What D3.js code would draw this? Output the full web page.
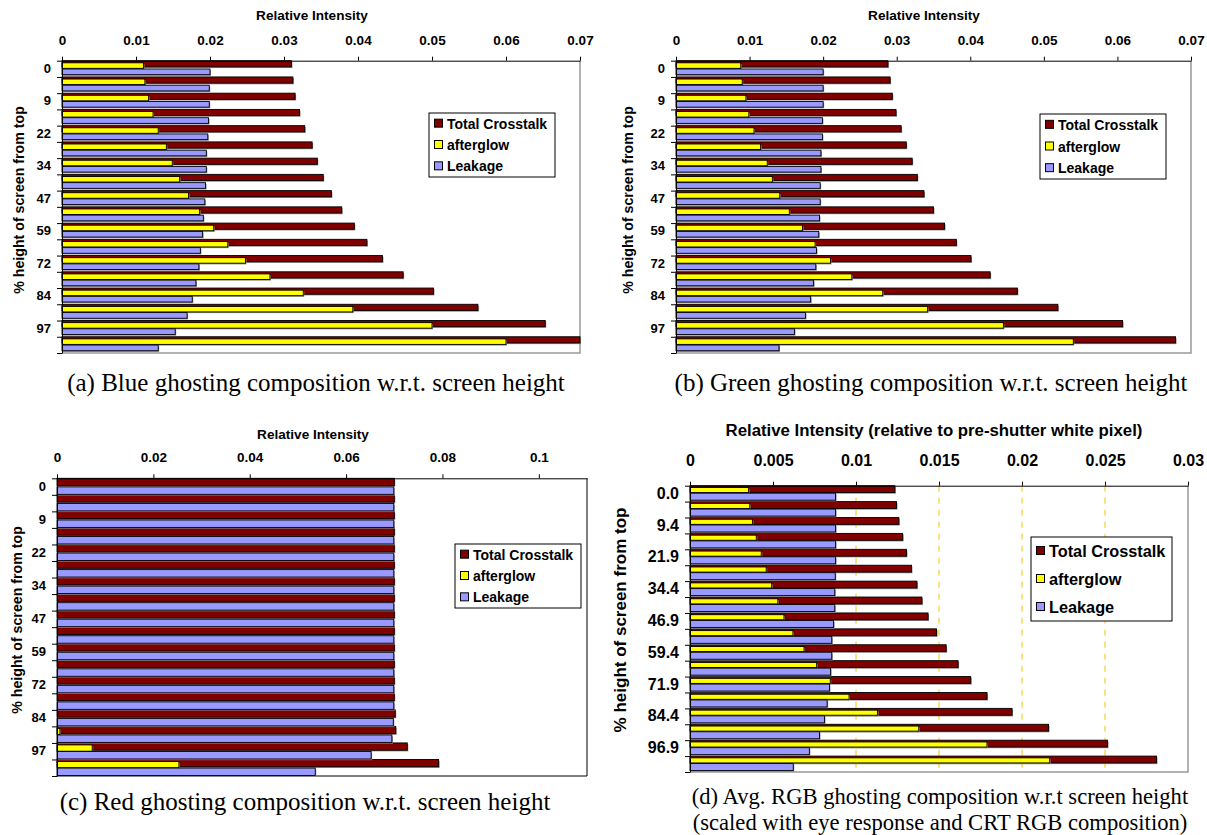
<!DOCTYPE html>
<meta charset="utf-8">
<script src="https://d3js.org/d3.v7.min.js"></script>
<style>
  body {margin: 0; background: #fff;}
  svg {font-family: "Liberation Sans", Arial, sans-serif;}
  .cap {font-family: "Liberation Serif", "Times New Roman", serif; font-weight: normal;}
</style>
<div id="my_dataviz"></div>
<script>

// rows: % height of screen from top (only every other one is labelled)
var rowPct = [0.0, 3.1, 9.4, 15.6, 21.9, 28.1, 34.4, 40.6, 46.9, 53.1, 59.4, 65.6, 71.9, 78.1, 84.4, 90.6, 96.9, 100.0];

var seriesNames = ["Total Crosstalk", "afterglow", "Leakage"];
var seriesColors = ["#800000", "#ffff00", "#9999ff"];

// (a) blue
var blueTotal     = [0.0310, 0.0312, 0.0315, 0.0321, 0.0328, 0.0338, 0.0345, 0.0353, 0.0364, 0.0378, 0.0395, 0.0412, 0.0433, 0.0461, 0.0502, 0.0562, 0.0653, 0.0733];
var blueAfterglow = [0.0110, 0.0112, 0.0117, 0.0123, 0.0130, 0.0141, 0.0149, 0.0159, 0.0171, 0.0186, 0.0205, 0.0224, 0.0248, 0.0281, 0.0326, 0.0393, 0.0500, 0.0600];
var blueLeakage   = [0.0200, 0.0199, 0.0199, 0.0198, 0.0197, 0.0195, 0.0195, 0.0194, 0.0193, 0.0191, 0.0190, 0.0187, 0.0185, 0.0181, 0.0176, 0.0169, 0.0153, 0.0130];

// (b) green
var greenTotal     = [0.0288, 0.0291, 0.0294, 0.0299, 0.0306, 0.0313, 0.0321, 0.0328, 0.0337, 0.0350, 0.0365, 0.0381, 0.0401, 0.0427, 0.0464, 0.0519, 0.0607, 0.0679];
var greenAfterglow = [0.0088, 0.0090, 0.0095, 0.0099, 0.0106, 0.0115, 0.0124, 0.0131, 0.0141, 0.0154, 0.0172, 0.0189, 0.0210, 0.0239, 0.0281, 0.0342, 0.0445, 0.0540];
var greenLeakage   = [0.0200, 0.0200, 0.0200, 0.0199, 0.0199, 0.0197, 0.0197, 0.0196, 0.0196, 0.0195, 0.0194, 0.0191, 0.0190, 0.0187, 0.0183, 0.0176, 0.0161, 0.0140];

// (c) red
var redTotal     = [0.0700, 0.0700, 0.0700, 0.0700, 0.0700, 0.0700, 0.0700, 0.0700, 0.0700, 0.0700, 0.0700, 0.0700, 0.0700, 0.0700, 0.0702, 0.0703, 0.0727, 0.0792];
var redAfterglow = [0, 0, 0, 0, 0, 0, 0, 0, 0, 0, 0, 0, 0, 0, 0, 0.0006, 0.0073, 0.0253];
var redLeakage   = [0.0699, 0.0699, 0.0699, 0.0699, 0.0699, 0.0699, 0.0699, 0.0699, 0.0699, 0.0699, 0.0699, 0.0699, 0.0699, 0.0699, 0.0698, 0.0695, 0.0652, 0.0536];

// (d) average RGB
var avgTotal     = [0.01234, 0.01244, 0.01258, 0.01281, 0.01304, 0.01334, 0.01367, 0.01397, 0.01434, 0.01485, 0.01543, 0.01615, 0.01691, 0.01789, 0.01940, 0.02160, 0.02515, 0.02810];
var avgAfterglow = [0.00353, 0.00360, 0.00376, 0.00399, 0.00429, 0.00459, 0.00492, 0.00529, 0.00566, 0.00620, 0.00687, 0.00763, 0.00845, 0.00958, 0.01130, 0.01378, 0.01789, 0.02167];
var avgLeakage   = [0.00877, 0.00877, 0.00877, 0.00877, 0.00877, 0.00875, 0.00872, 0.00872, 0.00865, 0.00854, 0.00854, 0.00847, 0.00840, 0.00826, 0.00810, 0.00780, 0.00719, 0.00622];

// x tick values
var ticksBG  = [0, 0.01, 0.02, 0.03, 0.04, 0.05, 0.06, 0.07];
var ticksRed = [0, 0.02, 0.04, 0.06, 0.08, 0.1];
var ticksAvg = [0, 0.005, 0.01, 0.015, 0.02, 0.025, 0.03];
var gridAvg  = [0.005, 0.01, 0.015, 0.02, 0.025];

var svg = d3.select("#my_dataviz")
  .append("svg")
    .attr("width", 1207)
    .attr("height", 835);

// layouts of the four panels
var panels = [
  {series: [blueTotal, blueAfterglow, blueLeakage], max: 0.07, ticks: ticksBG, grid: [],
   left: 62, right: 580, top: 60.7, bottom: 353, frame: "#999", fmt: d3.format(".0f"),
   title: "Relative Intensity", titleX: 312, titleY: 19.5, tickPad: 12, fs: 13.5, yfs: 13, tfs: 13.6, ytfs: 14.2,
   yTitleX: 19, yTitleY: 200, legend: {x: 429, y: 113, w: 126, h: 64, fs: 14},
   band: [[0, 0.38], [0.13, 0.47], [0.51, 0.86]],
   caption: ["(a) Blue ghosting composition w.r.t. screen height"], capFs: 25, capX: 316, capY: 391},
  {series: [greenTotal, greenAfterglow, greenLeakage], max: 0.07, ticks: ticksBG, grid: [],
   left: 676, right: 1191, top: 60.7, bottom: 353, frame: "#999", fmt: d3.format(".0f"),
   title: "Relative Intensity", titleX: 924, titleY: 19.5, tickPad: 12, fs: 13.5, yfs: 13, tfs: 13.6, ytfs: 14.2,
   yTitleX: 628, yTitleY: 200, legend: {x: 1040, y: 114, w: 126, h: 65, fs: 14},
   band: [[0, 0.38], [0.13, 0.47], [0.51, 0.86]],
   caption: ["(b) Green ghosting composition w.r.t. screen height"], capFs: 25, capX: 931, capY: 391},
  {series: [redTotal, redAfterglow, redLeakage], max: 0.11, ticks: ticksRed, grid: [],
   left: 57, right: 587, top: 478.3, bottom: 776, frame: "#000", fmt: d3.format(".0f"),
   title: "Relative Intensity", titleX: 313, titleY: 438.5, tickPad: 12, fs: 13.5, yfs: 13, tfs: 13.6, ytfs: 14.2,
   yTitleX: 17, yTitleY: 620, legend: {x: 455, y: 544, w: 126, h: 64, fs: 14},
   band: [[0, 0.44], [0.12, 0.5], [0.52, 0.97]],
   caption: ["(c) Red ghosting composition w.r.t. screen height"], capFs: 25, capX: 305, capY: 810},
  {series: [avgTotal, avgAfterglow, avgLeakage], max: 0.03, ticks: ticksAvg, grid: gridAvg,
   left: 690, right: 1188, top: 485.7, bottom: 772, frame: "#999", fmt: d3.format(".1f"),
   title: "Relative Intensity (relative to pre-shutter white pixel)", titleX: 934, titleY: 436, tickPad: 16, fs: 16, yfs: 16, tfs: 16.8, ytfs: 17,
   yTitleX: 620, yTitleY: 620, legend: {x: 1031, y: 537, w: 141, h: 84, fs: 16.3},
   band: [[0, 0.43], [0.11, 0.43], [0.47, 0.91]],
   caption: ["(d) Avg. RGB ghosting composition w.r.t screen height",
             "(scaled with eye response and CRT RGB composition)"], capFs: 22.6, capX: 940, capY: 804}
];

panels.forEach(function(p) {
  var g = svg.append("g");

  var x = d3.scaleLinear()
    .domain([0, p.max])
    .range([p.left, p.right])
    .clamp(true);

  var y = d3.scaleBand()
    .domain(rowPct)
    .range([p.top, p.bottom])
    .padding(0);
  var rh = y.bandwidth();

  // dashed gridlines
  g.selectAll("grid")
    .data(p.grid)
    .enter()
    .append("line")
      .attr("x1", function(d) { return x(d); })
      .attr("x2", function(d) { return x(d); })
      .attr("y1", p.top)
      .attr("y2", p.bottom)
      .attr("stroke", "#f5c400")
      .attr("stroke-width", 1)
      .attr("stroke-dasharray", "6,6");

  // right / bottom frame of the plot area
  g.append("path")
    .attr("d", "M" + p.right + "," + p.top + "V" + p.bottom + "H" + p.left)
    .attr("fill", "none")
    .attr("stroke", p.frame)
    .attr("stroke-width", p.frame == "#000" ? 1 : 1.5);

  // bars: total first, afterglow over it, leakage below
  p.series.forEach(function(vals, s) {
    var b = p.band[s];
    var rows = rowPct.map(function(r, i) { return {row: r, v: vals[i]}; })
      .filter(function(d) { return d.v > 0; });

    g.selectAll("shadow" + s)
      .data(rows)
      .enter()
      .append("rect")
        .attr("x", x(0) + 1)
        .attr("y", function(d) { return y(d.row) + b[0] * rh + 1.2; })
        .attr("width", function(d) { return Math.max(0, x(d.v) - x(0)); })
        .attr("height", (b[1] - b[0]) * rh)
        .attr("fill", "#8c8c8c");

    g.selectAll("bar" + s)
      .data(rows)
      .enter()
      .append("rect")
        .attr("x", x(0))
        .attr("y", function(d) { return y(d.row) + b[0] * rh; })
        .attr("width", function(d) { return Math.max(0, x(d.v) - x(0)); })
        .attr("height", (b[1] - b[0]) * rh)
        .attr("fill", seriesColors[s])
        .attr("stroke", "#000")
        .attr("stroke-width", 0.9);
  });

  // top axis
  var xa = g.append("g")
    .attr("transform", "translate(0," + p.top + ")")
    .call(d3.axisTop(x).tickValues(p.ticks).tickSize(4).tickSizeOuter(0).tickPadding(p.tickPad)
      .tickFormat(function(d) { return d === 0 ? "0" : String(d); }));
  xa.selectAll("text").attr("font-size", p.fs).attr("font-weight", "bold").attr("fill", "#000");
  xa.select(".domain").attr("stroke", "#000");

  // left axis: ticks between rows
  var yIdx = d3.scaleLinear().domain([0, rowPct.length]).range([p.top, p.bottom]);
  g.append("g")
    .attr("transform", "translate(" + p.left + ",0)")
    .call(d3.axisLeft(yIdx).tickValues(d3.range(rowPct.length + 1)).tickSize(5).tickSizeOuter(0).tickFormat(""));

  // left axis labels on every other row
  var ya = g.append("g")
    .attr("transform", "translate(" + p.left + ",0)")
    .call(d3.axisLeft(y).tickSize(0).tickPadding(11)
      .tickFormat(function(d, i) { return i % 2 === 0 ? p.fmt(d) : ""; }));
  ya.select(".domain").remove();
  ya.selectAll("text").attr("font-size", p.yfs).attr("font-weight", "bold").attr("fill", "#000");

  // axis titles
  g.append("text")
    .attr("x", p.titleX)
    .attr("y", p.titleY)
    .attr("text-anchor", "middle")
    .attr("font-size", p.tfs)
    .attr("font-weight", "bold")
    .text(p.title);

  g.append("text")
    .attr("transform", "translate(" + p.yTitleX + "," + p.yTitleY + ")rotate(-90)")
    .attr("text-anchor", "middle")
    .attr("dy", "0.35em")
    .attr("font-size", p.ytfs)
    .attr("font-weight", "bold")
    .text("% height of screen from top");

  // legend
  var L = p.legend;
  g.append("rect")
    .attr("x", L.x).attr("y", L.y).attr("width", L.w).attr("height", L.h)
    .attr("fill", "#fff").attr("stroke", "#000").attr("stroke-width", 1);
  var step = L.h / 3;
  seriesNames.forEach(function(name, s) {
    var cy = L.y + step * (s + 0.5);
    g.append("rect")
      .attr("x", L.x + 5.5).attr("y", cy - 4.5).attr("width", 8).attr("height", 8)
      .attr("fill", seriesColors[s]).attr("stroke", "#000").attr("stroke-width", 1);
    g.append("text")
      .attr("x", L.x + 18).attr("y", cy).attr("dy", "0.36em")
      .attr("font-size", L.fs).attr("font-weight", "bold")
      .text(name);
  });

  // caption
  p.caption.forEach(function(line, i) {
    g.append("text")
      .attr("class", "cap")
      .attr("x", p.capX)
      .attr("y", p.capY + i * 26)
      .attr("text-anchor", "middle")
      .attr("font-size", p.capFs)
      .text(line);
  });
});

</script>
